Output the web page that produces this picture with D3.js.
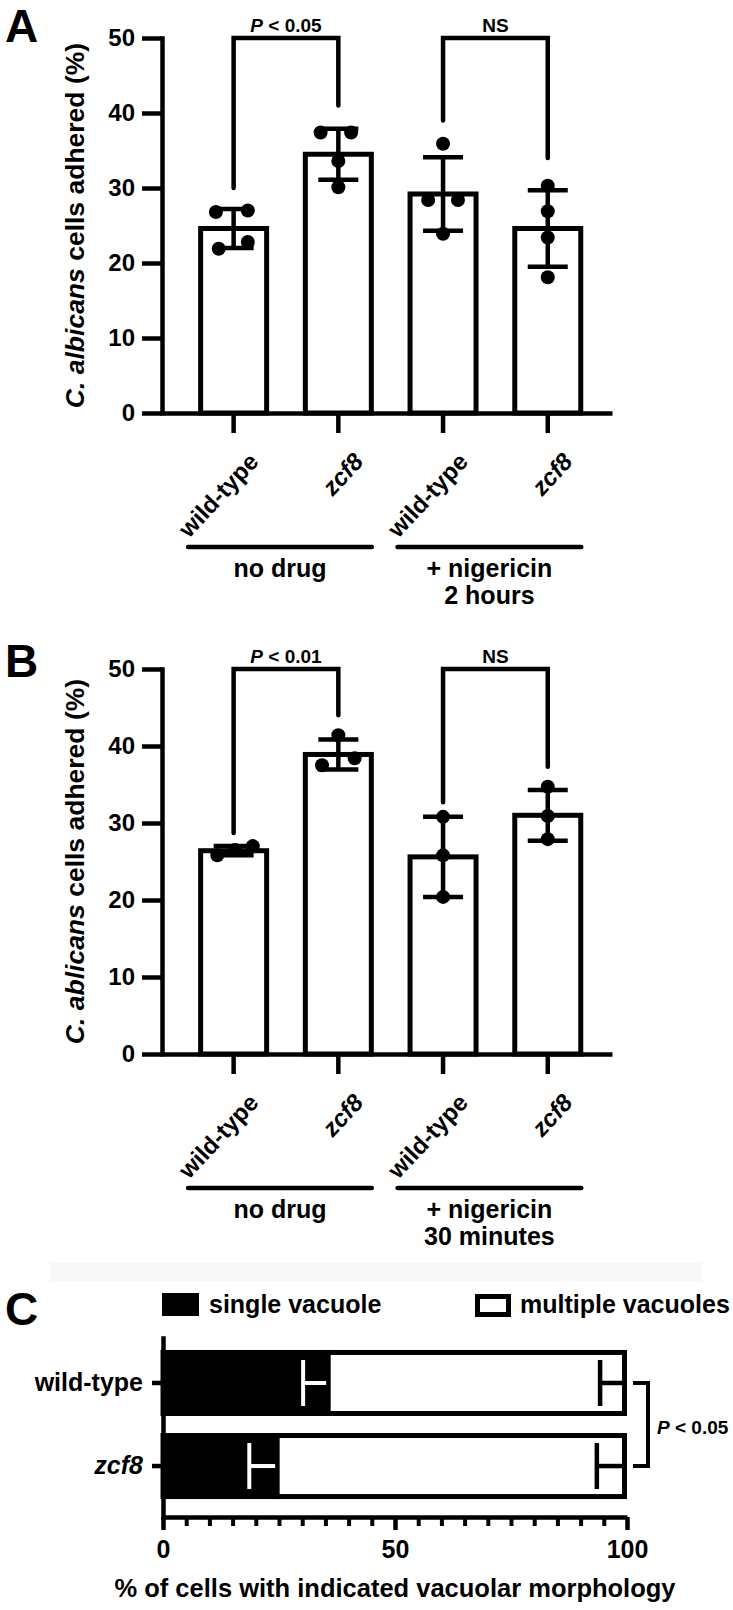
<!DOCTYPE html>
<html>
<head>
<meta charset="utf-8">
<script src="https://cdn.jsdelivr.net/npm/d3@7"></script>
<style>
  html, body { margin: 0; padding: 0; background: #fff; }
  svg { display: block; }
  text { font-family: "Liberation Sans", Arial, Helvetica, sans-serif; font-weight: bold; fill: #000; }
</style>
</head>
<body>
<svg id="chart" width="733" height="1610"></svg>
<script>
// ---------------- DATA ----------------
const barLabels = ["wild-type", "zcf8", "wild-type", "zcf8"];
const italicLabel = [false, true, false, true];
const yTicks = [0, 10, 20, 30, 40, 50];
const groupNames = ["no drug", "+ nigericin"];
const groupSubA = ["", "2 hours"];
const groupSubB = ["", "30 minutes"];

// Panel A
const meanA = [24.6, 34.5, 29.2, 24.6];
const sdA = [2.6, 3.4, 4.9, 5.1];
const ptsA = [[26.8, 27.0, 21.9, 22.8], [37.4, 37.4, 33.6, 30.1], [35.9, 28.4, 28.4, 23.9], [30.3, 26.9, 23.4, 18.1]];
const jitA = [[-0.25, 0.2, -0.21, 0.2], [-0.25, 0.18, 0, 0], [0, -0.21, 0.21, 0], [0, 0, 0, 0]];
const sigA = [
  { a: 0, b: 1, top: 50, left: 30, right: 41, p: "P", label: " < 0.05" },
  { a: 2, b: 3, top: 50, left: 39, right: 34, p: "", label: "NS" }
];

// Panel B
const meanB = [26.4, 38.9, 25.6, 31.0];
const sdB = [0.6, 1.95, 5.2, 3.3];
const ptsB = [[25.8, 26.5, 27.0], [41.4, 37.5, 38.4], [30.8, 25.8, 20.4], [34.7, 30.9, 27.9]];
const jitB = [[-0.23, 0.02, 0.27], [0, -0.23, 0.23], [0, 0, 0], [0, 0, 0]];
const sigB = [
  { a: 0, b: 1, top: 50, left: 28.7, right: 44, p: "P", label: " < 0.01" },
  { a: 2, b: 3, top: 50, left: 32.7, right: 37.3, p: "", label: "NS" }
];

// Panel C
const catsC = ["wild-type", "zcf8"];
const singleC = [35.6, 24.6];
const singleSD = [5.4, 6.0];
const multiC = [64.4, 75.4];
const multiSD = [5.8, 6.5];
const xTicksC = [0, 50, 100];
const legendC = ["single vacuole", "multiple vacuoles"];
const sigC = { p: "P", label: " < 0.05" };

// ---------------- DRAW ----------------
const svg = d3.select("#chart");
svg.append("rect").attr("width", 733).attr("height", 1610).attr("fill", "#fff");

function barPanel(o) {
  const g = svg.append("g");
  const x = d3.scaleBand().domain(d3.range(4)).range([163, 612])
    .paddingInner(0.322).paddingOuter(0.305).align(0.55);
  const y = d3.scaleLinear().domain([0, 50]).range([o.bottom, o.top]);
  const bw = x.bandwidth();
  const cx = i => x(i) + bw / 2;

  // bars
  g.selectAll("rect.bar").data(o.means).join("rect")
    .attr("x", (d, i) => x(i) + 2.5)
    .attr("width", bw - 5)
    .attr("y", d => y(d))
    .attr("height", d => y(0) - y(d))
    .attr("fill", "#fff").attr("stroke", "#000").attr("stroke-width", 5);

  // error bars
  o.means.forEach((m, i) => {
    const lo = y(m - o.sds[i]), hi = y(m + o.sds[i]);
    g.append("line").attr("x1", cx(i)).attr("x2", cx(i)).attr("y1", lo).attr("y2", hi)
      .attr("stroke", "#000").attr("stroke-width", 4.5);
    [lo, hi].forEach(yy => g.append("line").attr("x1", cx(i) - 20).attr("x2", cx(i) + 20)
      .attr("y1", yy).attr("y2", yy).attr("stroke", "#000").attr("stroke-width", 4.5));
  });

  // points
  o.pts.forEach((arr, i) => {
    g.selectAll(null).data(arr).join("circle")
      .attr("cx", (d, k) => cx(i) + o.jit[i][k] * bw)
      .attr("cy", d => y(d))
      .attr("r", 7).attr("fill", "#000");
  });

  // y axis
  const ya = g.append("g").attr("transform", "translate(162,0)")
    .call(d3.axisLeft(y).tickValues(yTicks).tickSize(20).tickPadding(7).tickSizeOuter(0));
  ya.select(".domain").attr("stroke-width", 4.5).attr("stroke-linecap", "square");
  ya.selectAll(".tick line").attr("stroke-width", 4.5);
  ya.selectAll(".tick text").attr("font-size", 24).attr("font-family", "Liberation Sans, Arial, sans-serif")
    .attr("font-weight", "bold").attr("fill", "#000");

  // x axis
  const xa = g.append("g").attr("transform", `translate(0,${y(0)})`)
    .call(d3.axisBottom(x).tickSize(20).tickSizeOuter(0).tickFormat(""));
  xa.select(".domain").attr("stroke-width", 4.5);
  xa.selectAll(".tick line").attr("stroke-width", 4.5);

  // rotated category labels
  barLabels.forEach((lab, i) => {
    g.append("text")
      .attr("transform", `translate(${cx(i) + 20},${y(0) + 44}) rotate(-47)`)
      .attr("text-anchor", "end").attr("dominant-baseline", "central")
      .attr("font-size", 24)
      .attr("font-style", italicLabel[i] ? "italic" : "normal")
      .text(lab);
  });

  // group underlines
  groupNames.forEach((name, gi) => {
    const a = gi * 2, b = gi * 2 + 1;
    const x1 = x(a) - 10, x2 = x(b) + bw - 2;
    g.append("line").attr("x1", x1).attr("x2", x2)
      .attr("y1", y(0) + 134).attr("y2", y(0) + 134)
      .attr("stroke", "#000").attr("stroke-width", 4.5).attr("stroke-linecap", "round");
    const mid = (x1 + x2) / 2;
    g.append("text").attr("x", mid).attr("y", y(0) + 164).attr("text-anchor", "middle")
      .attr("font-size", 25).text(name);
    if (o.sub[gi]) g.append("text").attr("x", mid).attr("y", y(0) + 191).attr("text-anchor", "middle")
      .attr("font-size", 25).text(o.sub[gi]);
  });

  // significance brackets
  o.sig.forEach(s => {
    const xa_ = cx(s.a), xb_ = cx(s.b);
    g.append("path")
      .attr("d", `M${xa_},${y(s.left)}V${y(s.top)}H${xb_}V${y(s.right)}`)
      .attr("fill", "none").attr("stroke", "#000").attr("stroke-width", 4.5)
      .attr("stroke-linecap", "round");
    const t = g.append("text").attr("x", (xa_ + xb_) / 2).attr("y", y(s.top) - 6)
      .attr("text-anchor", "middle").attr("font-size", 19);
    if (s.p) t.append("tspan").attr("font-style", "italic").text(s.p);
    t.append("tspan").text(s.label);
  });

  // y label
  const yl = g.append("text")
    .attr("transform", `translate(84,${(y(0) + y(50)) / 2}) rotate(-90)`)
    .attr("text-anchor", "middle").attr("font-size", 26.5);
  yl.append("tspan").attr("font-style", "italic").text(o.species);
  yl.append("tspan").text(" cells adhered (%)");

  // panel letter
  g.append("text").attr("x", 5).attr("y", o.letterY).attr("font-size", 46).text(o.letter);
}

barPanel({ top: 38, bottom: 413, means: meanA, sds: sdA, pts: ptsA, jit: jitA, sig: sigA,
  sub: groupSubA, species: "C. albicans", letter: "A", letterY: 42 });
barPanel({ top: 669, bottom: 1054, means: meanB, sds: sdB, pts: ptsB, jit: jitB, sig: sigB,
  sub: groupSubB, species: "C. ablicans", letter: "B", letterY: 677 });

// ---------------- PANEL C ----------------
(function () {
  const g = svg.append("g");
  g.append("rect").attr("x", 50).attr("y", 1263).attr("width", 652).attr("height", 18).attr("fill", "#f8f8f8");

  const x = d3.scaleLinear().domain([0, 100]).range([163, 627]);
  const y = d3.scaleBand().domain(catsC).range([1338, 1517])
    .paddingInner(0.205).paddingOuter(0.18).align(0.4);
  const bw = y.bandwidth();
  const cy = c => y(c) + bw / 2;

  catsC.forEach((c, i) => {
    // single vacuole (black)
    g.append("rect").attr("x", x(0)).attr("y", y(c) + 2.5)
      .attr("width", x(singleC[i]) - x(0)).attr("height", bw - 5)
      .attr("fill", "#000").attr("stroke", "#000").attr("stroke-width", 5);
    // multiple vacuoles (white)
    g.append("rect").attr("x", x(singleC[i])).attr("y", y(c) + 2.5)
      .attr("width", x(singleC[i] + multiC[i]) - 2.5 - x(singleC[i])).attr("height", bw - 5)
      .attr("fill", "#fff").attr("stroke", "#000").attr("stroke-width", 5);
    // error bar single (white, toward zero)
    const xe = x(singleC[i] - singleSD[i]);
    g.append("line").attr("x1", x(singleC[i]) - 2).attr("x2", xe).attr("y1", cy(c)).attr("y2", cy(c))
      .attr("stroke", "#fff").attr("stroke-width", 4);
    g.append("line").attr("x1", xe).attr("x2", xe).attr("y1", cy(c) - 23).attr("y2", cy(c) + 23)
      .attr("stroke", "#fff").attr("stroke-width", 4);
    // error bar multiple (black)
    const tot = singleC[i] + multiC[i];
    const xm = x(tot - multiSD[i]);
    g.append("line").attr("x1", x(tot)).attr("x2", xm).attr("y1", cy(c)).attr("y2", cy(c))
      .attr("stroke", "#000").attr("stroke-width", 4.5);
    g.append("line").attr("x1", xm).attr("x2", xm).attr("y1", cy(c) - 23).attr("y2", cy(c) + 23)
      .attr("stroke", "#000").attr("stroke-width", 4.5);
  });

  // y axis
  const ya = g.append("g").attr("transform", "translate(163,0)")
    .call(d3.axisLeft(y).tickSize(11).tickPadding(9).tickSizeOuter(0));
  ya.select(".domain").attr("stroke-width", 4.5).attr("stroke-linecap", "square");
  ya.selectAll(".tick line").attr("stroke-width", 4.5);
  ya.selectAll(".tick text").attr("font-size", 25).attr("font-family", "Liberation Sans, Arial, sans-serif")
    .attr("font-weight", "bold").attr("fill", "#000")
    .attr("font-style", d => d === "zcf8" ? "italic" : "normal");

  // x axis: minor ticks
  const minor = d3.range(5, 100, 5).filter(v => xTicksC.indexOf(v) < 0);
  const xm = g.append("g").attr("transform", "translate(0,1517)")
    .call(d3.axisBottom(x).tickValues(minor).tickSize(9).tickSizeOuter(0).tickFormat(""));
  xm.select(".domain").remove();
  xm.selectAll(".tick line").attr("stroke-width", 4);
  // x axis: major
  const xa = g.append("g").attr("transform", "translate(0,1517)")
    .call(d3.axisBottom(x).tickValues(xTicksC).tickSize(13).tickPadding(10).tickSizeOuter(0));
  xa.select(".domain").attr("stroke-width", 4.5);
  xa.selectAll(".tick line").attr("stroke-width", 4.5);
  xa.selectAll(".tick text").attr("font-size", 25).attr("font-family", "Liberation Sans, Arial, sans-serif")
    .attr("font-weight", "bold").attr("fill", "#000");

  g.append("text").attr("x", x(50)).attr("y", 1597).attr("text-anchor", "middle")
    .attr("font-size", 25.5).text("% of cells with indicated vacuolar morphology");

  // legend
  g.append("rect").attr("x", 162).attr("y", 1293).attr("width", 37).attr("height", 23).attr("fill", "#000");
  g.append("text").attr("x", 209).attr("y", 1313).attr("font-size", 25).text(legendC[0]);
  g.append("rect").attr("x", 477.5).attr("y", 1296.5).attr("width", 31).attr("height", 18)
    .attr("fill", "#fff").attr("stroke", "#000").attr("stroke-width", 5);
  g.append("text").attr("x", 520).attr("y", 1313).attr("font-size", 25).text(legendC[1]);

  // significance bracket
  const bx = x(100) + 21;
  g.append("path")
    .attr("d", `M${x(100) + 6},${cy(catsC[0])}H${bx}V${cy(catsC[1])}H${x(100) + 6}`)
    .attr("fill", "none").attr("stroke", "#000").attr("stroke-width", 4);
  const t = g.append("text").attr("x", bx + 9).attr("y", (cy(catsC[0]) + cy(catsC[1])) / 2 + 9)
    .attr("font-size", 19);
  t.append("tspan").attr("font-style", "italic").text(sigC.p);
  t.append("tspan").text(sigC.label);

  g.append("text").attr("x", 5).attr("y", 1325).attr("font-size", 46).text("C");
})();
</script>
</body>
</html>
